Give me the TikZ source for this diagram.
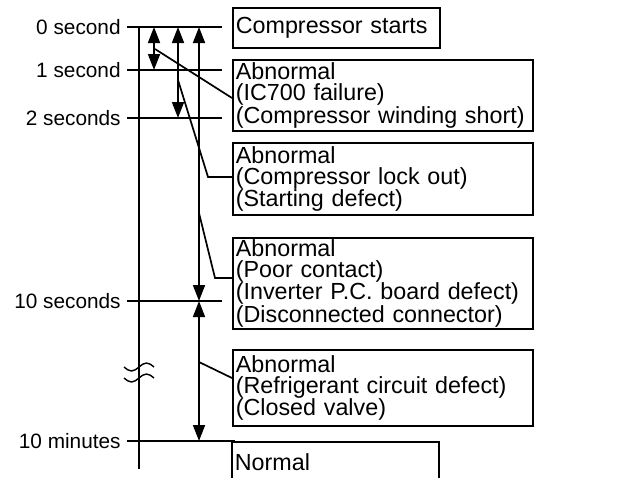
\documentclass[tikz,border=0pt]{standalone}
\usepackage{fontspec}
\setmainfont{Liberation Sans}
\usetikzlibrary{arrows.meta}

\begin{document}
\begin{tikzpicture}[x=1pt, y=-1pt, line width=1.7pt,
    span/.style={{Triangle[length=16pt,width=12pt]}-{Triangle[length=16pt,width=12pt]}},
    timelabel/.style={anchor=east, inner xsep=5.5pt, font=\fontsize{20.8}{22}\selectfont},
    causebox/.style={draw, anchor=north west, align=left, inner xsep=3pt, inner ysep=0pt,
        text width=294pt, font=\fontsize{23.3}{21}\selectfont}]
    \useasboundingbox (0,0) rectangle (620,477);

    % time axis and its ticks
    \coordinate (axtop) at (139,27);
    \coordinate (axbot) at (139,469);
    \node[timelabel] (s0) at (127,27) {0 second};
    \node[timelabel] (s1) at (127,70) {1 second};
    \node[timelabel] (s2) at (127,118) {2 seconds};
    \node[timelabel] (s10) at (127,301) {10 seconds};
    \node[timelabel] (m10) at (127,441) {10 minutes};
    \coordinate (k0) at (222,27);
    \coordinate (k1) at (222,70);
    \coordinate (k2) at (222,118);
    \coordinate (k10) at (222,301);
    \coordinate (km) at (235,441);

    \draw (axtop) -- (axbot);
    \draw (s0.east) -- (k0);
    \draw (s1.east) -- (k1);
    \draw (s2.east) -- (k2);
    \draw (s10.east) -- (k10);
    \draw (m10.east) -- (km);

    % break mark
    \draw[line width=1.4pt] (124,367) sin (131.5,371) cos (139,367) sin (146.5,363) cos (154,367);
    \draw[line width=1.4pt] (124,378) sin (131.5,382) cos (139,378) sin (146.5,374) cos (154,378);

    % result boxes
    \node[causebox, text width=201pt, minimum height=40pt] (b1) at (232,7) {Compressor starts};
    \node[causebox, minimum height=71pt] (b2) at (232,59)
        {Abnormal\\(IC700 failure)\\(Compressor winding short)};
    \node[causebox, minimum height=72pt] (b3) at (232,142)
        {Abnormal\\(Compressor lock out)\\(Starting defect)};
    \node[causebox, minimum height=91pt] (b4) at (232,237)
        {Abnormal\\(Poor contact)\\(Inverter P.C. board defect)\\(Disconnected connector)};
    \node[causebox, minimum height=76pt] (b5) at (232,349)
        {Abnormal\\(Refrigerant circuit defect)\\(Closed valve)};
    \node[causebox, text width=201pt, inner ysep=12pt, text height=17pt, text depth=30pt]
        (b6) at (231,441) {Normal};

    % time spans
    \coordinate (a1t) at (154,27);
    \coordinate (a1b) at (154,70);
    \coordinate (a2t) at (178,27);
    \coordinate (a2b) at (178,118);
    \coordinate (a3t) at (199,27);
    \coordinate (a3b) at (199,301);
    \coordinate (a4b) at (199,441);

    \path[span]
        (a1t) edge (a1b)
        (a2t) edge (a2b)
        (a3t) edge (a3b)
        (a3b) edge (a4b);

    % leaders to the boxes
    \coordinate (p1) at (155,49);
    \coordinate (p2) at (178,80);
    \coordinate (q2) at (208,177);
    \coordinate (p3) at (199,213);
    \coordinate (q3) at (215,278);
    \coordinate (p4) at (199,362);

    \draw (p1) -- ([yshift=-39pt]b2.north west);
    \draw (p2) -- (q2) -- ([yshift=-35pt]b3.north west);
    \draw (p3) -- (q3) -- ([yshift=-41pt]b4.north west);
    \draw (p4) -- ([yshift=-29pt]b5.north west);
\end{tikzpicture}
\end{document}
